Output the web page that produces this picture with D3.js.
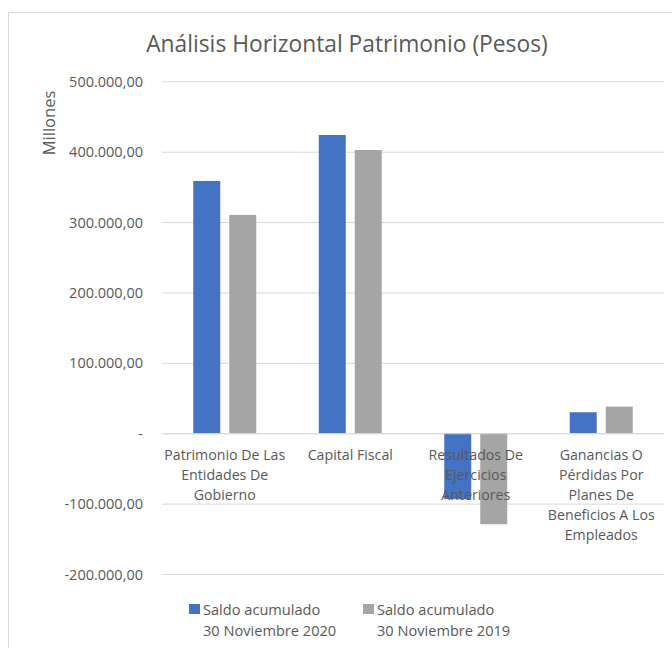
<!DOCTYPE html>
<html>
<head>
<meta charset="utf-8">
<script src="https://cdn.jsdelivr.net/npm/d3@7"></script>
<style>
  body { margin: 0; background: #fff; }
  svg text { font-family: "Open Sans", "Noto Sans", sans-serif; fill: #595959; }
</style>
</head>
<body>
<script>
// data
var categories = [
  "Patrimonio De Las Entidades De Gobierno",
  "Capital Fiscal",
  "Resultados De Ejercicios Anteriores",
  "Ganancias O Pérdidas Por Planes De Beneficios A Los Empleados"
];
var categoryLines = [
  ["Patrimonio De Las", "Entidades De", "Gobierno"],
  ["Capital Fiscal"],
  ["Resultados De", "Ejercicios", "Anteriores"],
  ["Ganancias O", "Pérdidas Por", "Planes De", "Beneficios A Los", "Empleados"]
];
var seriesNames = ["Saldo acumulado 30 Noviembre 2020", "Saldo acumulado 30 Noviembre 2019"];
var seriesLines = [["Saldo acumulado", "30 Noviembre 2020"], ["Saldo acumulado", "30 Noviembre 2019"]];
var saldo2020 = [358400, 423700, -93700, 29800];
var saldo2019 = [310100, 402400, -129300, 37800];
var yTicks = [-200000, -100000, 0, 100000, 200000, 300000, 400000, 500000];
var colors = ["#4472C4", "#A5A5A5"];

var svgWidth = 672, svgHeight = 648;
var plot = { left: 162, right: 664, top: 81.3, bottom: 574 };

var svg = d3.select("body").append("svg")
    .attr("width", svgWidth)
    .attr("height", svgHeight);

// chart area border (runs off the right/bottom edges)
svg.append("rect")
    .attr("x", 8.5).attr("y", 12.5)
    .attr("width", 800).attr("height", 800)
    .attr("fill", "none")
    .attr("stroke", "#d9d9d9");

// title
svg.append("text")
    .attr("x", 347).attr("y", 52)
    .attr("text-anchor", "middle")
    .style("font-size", "22.8px")
    .text("Análisis Horizontal Patrimonio (Pesos)");

// scales
var x0 = d3.scaleBand().domain(categories).range([plot.left, plot.right]);
var x1 = d3.scaleBand().domain(seriesNames)
    .range([(x0.bandwidth() - 63) / 2, (x0.bandwidth() + 63) / 2])
    .paddingInner(0.25);
var y = d3.scaleLinear().domain([-200000, 500000]).range([plot.bottom, plot.top]);

var loc = d3.formatLocale({ decimal: ",", thousands: ".", grouping: [3], currency: ["$", ""], minus: "-" });
var fmt = loc.format(",.2f");

// y axis + gridlines
var yAxis = svg.append("g")
    .attr("transform", `translate(${plot.left},0)`)
    .call(d3.axisLeft(y)
      .tickValues(yTicks)
      .tickSize(-(plot.right - plot.left))
      .tickPadding(19)
      .tickFormat(d => d === 0 ? "-" : fmt(d)));
yAxis.select(".domain").remove();
yAxis.selectAll("line").attr("stroke", "#d9d9d9");
yAxis.selectAll("text")
    .style("font-size", "14.5px")
    .attr("fill", "#595959")
    .attr("dy", "0.35em");

// y axis title
svg.append("text")
    .attr("transform", "translate(55,123) rotate(-90)")
    .attr("text-anchor", "middle")
    .style("font-size", "16.5px")
    .text("Millones");

// bars
var rows = categories.map((c, i) => ({ cat: c, vals: [saldo2020[i], saldo2019[i]] }));
var groups = svg.selectAll("g.cat")
    .data(rows)
    .enter()
    .append("g")
    .attr("class", "cat")
    .attr("transform", d => `translate(${x0(d.cat)},0)`);

groups.selectAll("rect")
    .data(d => d.vals.map((v, j) => ({ name: seriesNames[j], v: v, j: j })))
    .enter()
    .append("rect")
    .attr("x", d => x1(d.name))
    .attr("width", x1.bandwidth())
    .attr("y", d => y(Math.max(0, d.v)))
    .attr("height", d => Math.abs(y(d.v) - y(0)))
    .attr("fill", d => colors[d.j]);

// category axis at zero
var xAxis = svg.append("g")
    .attr("transform", `translate(0,${y(0)})`)
    .call(d3.axisBottom(x0).tickSize(0).tickFormat(""));
xAxis.select(".domain").attr("stroke", "#d9d9d9");
xAxis.selectAll(".tick").each(function(d, i) {
  var t = d3.select(this).select("text")
      .attr("y", null).attr("dy", null)
      .attr("text-anchor", "middle")
      .attr("fill", "#595959")
      .style("font-size", "14.2px");
  categoryLines[i].forEach((line, k) => {
    t.append("tspan").attr("x", 0).attr("y", 27 + k * 20).text(line);
  });
});

// legend
var legendX = [189, 363];
var legend = svg.selectAll("g.legend")
    .data(seriesNames)
    .enter()
    .append("g")
    .attr("class", "legend")
    .attr("transform", (d, i) => `translate(${legendX[i]},604)`);
legend.append("rect")
    .attr("width", 11).attr("height", 10)
    .attr("fill", (d, i) => colors[i]);
legend.append("text")
    .style("font-size", "14.6px")
    .each(function(d, i) {
      var t = d3.select(this);
      seriesLines[i].forEach((line, k) => {
        t.append("tspan").attr("x", 14).attr("y", 11 + k * 21).text(line);
      });
    });
</script>
</body>
</html>
